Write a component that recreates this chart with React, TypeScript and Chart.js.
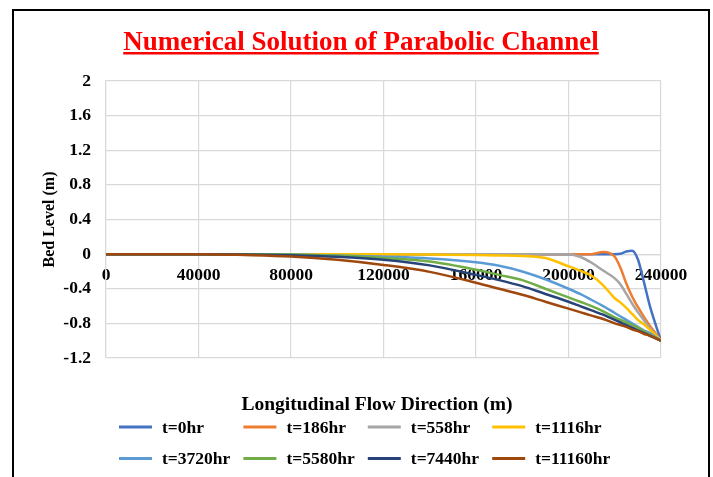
import { useEffect, useRef } from "react";
import { Chart, registerables } from "chart.js";

Chart.register(...registerables);

const SERIF = "'Liberation Serif', 'Times New Roman', serif";

const chartTitle = "Numerical Solution of Parabolic Channel";
const xAxisTitle = "Longitudinal Flow Direction (m)";
const yAxisTitle = "Bed Level (m)";

const xTickValues = [0, 40000, 80000, 120000, 160000, 200000, 240000];
const yTickValues = [-1.2, -0.8, -0.4, 0, 0.4, 0.8, 1.2, 1.6, 2];

const distance = [
  0, 20000, 40000, 60000, 80000, 100000, 120000, 140000, 160000, 170000, 180000,
  190000, 200000, 205000, 210000, 215000, 220000, 222500, 225000, 227500, 230000,
  232500, 235000, 237500, 240000,
];

const seriesLabels = [
  "t=0hr", "t=186hr", "t=558hr", "t=1116hr",
  "t=3720hr", "t=5580hr", "t=7440hr", "t=11160hr",
];

const seriesColors = [
  "#4472C4", "#ED7D31", "#A5A5A5", "#FFC000",
  "#5B9BD5", "#70AD47", "#264478", "#9E480E",
];

const bedT0 = [0, 0, 0, 0, 0, 0, 0, 0, 0, 0, 0, 0, 0, 0, 0, 0, 0, 0.005, 0.03, 0.04, -0.06, -0.31, -0.58, -0.8, -1.0];
const bedT186 = [0, 0, 0, 0, 0, 0, 0, 0, 0, 0, 0, 0, 0, 0, 0, 0.025, -0.03, -0.16, -0.34, -0.49, -0.61, -0.72, -0.82, -0.91, -1.0];
const bedT558 = [0, 0, 0, 0, 0, 0, 0, 0, 0, 0, 0, 0, 0, -0.03, -0.1, -0.19, -0.28, -0.35, -0.46, -0.57, -0.67, -0.76, -0.85, -0.93, -1.0];
const bedT1116 = [0, 0, 0, 0, 0, 0, 0, -0.005, -0.01, -0.015, -0.022, -0.045, -0.14, -0.19, -0.25, -0.36, -0.51, -0.56, -0.62, -0.69, -0.76, -0.81, -0.87, -0.93, -1.0];
const bedT3720 = [0, 0, 0, 0, -0.005, -0.015, -0.03, -0.05, -0.095, -0.135, -0.2, -0.29, -0.4, -0.46, -0.53, -0.6, -0.68, -0.72, -0.76, -0.8, -0.84, -0.88, -0.91, -0.955, -1.0];
const bedT5580 = [0, 0, 0, 0, -0.005, -0.02, -0.045, -0.085, -0.18, -0.24, -0.3, -0.4, -0.5, -0.55, -0.6, -0.66, -0.73, -0.76, -0.79, -0.82, -0.85, -0.89, -0.93, -0.965, -1.0];
const bedT7440 = [0, 0, 0, -0.003, -0.012, -0.03, -0.065, -0.13, -0.24, -0.3, -0.37, -0.46, -0.55, -0.6, -0.65, -0.7, -0.76, -0.79, -0.82, -0.85, -0.88, -0.91, -0.94, -0.97, -1.0];
const bedT11160 = [0, 0, 0, -0.01, -0.027, -0.065, -0.125, -0.205, -0.33, -0.4, -0.47, -0.55, -0.63, -0.67, -0.71, -0.75, -0.8, -0.82, -0.84, -0.87, -0.89, -0.92, -0.94, -0.97, -1.0];

const seriesValues = [bedT0, bedT186, bedT558, bedT1116, bedT3720, bedT5580, bedT7440, bedT11160];

const GRID = "#d9d9d9";

const decorPlugin = {
  id: "decor",
  afterDraw(chart: any) {
    const ctx = chart.ctx as CanvasRenderingContext2D;
    ctx.save();
    // main title, underlined
    ctx.font = `bold 27px ${SERIF}`;
    ctx.fillStyle = "#FF0000";
    ctx.textAlign = "center";
    ctx.textBaseline = "alphabetic";
    const tx = 361;
    const ty = 50;
    ctx.fillText(chartTitle, tx, ty);
    const tw = ctx.measureText(chartTitle).width;
    ctx.fillRect(tx - tw / 2, ty + 2, tw, 2.5);
    // x axis title
    ctx.fillStyle = "#000";
    ctx.font = `bold 19.5px ${SERIF}`;
    ctx.textBaseline = "middle";
    ctx.fillText(xAxisTitle, 377, 405);
    // legend, 4 columns
    ctx.textAlign = "left";
    ctx.font = `bold 17.5px ${SERIF}`;
    chart.data.datasets.forEach((ds: any, i: number) => {
      const col = i % 4;
      const row = Math.floor(i / 4);
      const x = 119 + col * 124.4;
      const y = 427 + row * 31.5;
      ctx.strokeStyle = ds.borderColor;
      ctx.lineWidth = 3;
      ctx.beginPath();
      ctx.moveTo(x, y);
      ctx.lineTo(x + 33, y);
      ctx.stroke();
      ctx.fillStyle = "#000";
      ctx.fillText(ds.label, x + 43, y + 1);
    });
    ctx.restore();
  },
};

export default function App() {
  const ref = useRef<HTMLCanvasElement>(null);

  useEffect(() => {
    const datasets = seriesLabels.map((label, i) => ({
      label,
      data: distance.map((x, j) => ({ x, y: seriesValues[i][j] })),
      borderColor: seriesColors[i],
      backgroundColor: seriesColors[i],
      borderWidth: 2.5,
      pointRadius: 0,
      cubicInterpolationMode: "monotone" as const,
      fill: false,
      order: seriesLabels.length - i,
    }));

    const chart = new Chart(ref.current!, {
      type: "line",
      data: { datasets },
      plugins: [decorPlugin],
      options: {
        animation: false,
        responsive: false,
        layout: { padding: { left: 30, right: 52, top: 81, bottom: 119 } },
        plugins: {
          legend: { display: false },
          title: { display: false },
          tooltip: { enabled: false },
        },
        scales: {
          x: {
            type: "linear",
            position: { y: 0 } as any,
            min: 0,
            max: 240000,
            afterBuildTicks: (scale: any) => {
              scale.ticks = xTickValues.map((v) => ({ value: v }));
            },
            ticks: {
              autoSkip: false,
              maxRotation: 0,
              padding: 11,
              color: "#000",
              font: { family: SERIF, size: 17.5, weight: "bold" },
              callback: (v: any) => String(v),
            },
            grid: { color: GRID, lineWidth: 1.2, drawTicks: false },
            border: { color: GRID, width: 1.2 },
          },
          y: {
            type: "linear",
            position: "left",
            min: -1.2,
            max: 2,
            afterBuildTicks: (scale: any) => {
              scale.ticks = yTickValues.map((v) => ({ value: v }));
            },
            afterFit: (scale: any) => {
              scale.width = 76;
            },
            ticks: {
              padding: 15,
              color: "#000",
              font: { family: SERIF, size: 17.5, weight: "bold" },
              callback: (v: any) => String(Number(Number(v).toFixed(1))),
            },
            title: {
              display: true,
              text: yAxisTitle,
              color: "#000",
              font: { family: SERIF, size: 16, weight: "bold" },
              padding: { top: 10, bottom: 0 },
            },
            grid: { color: GRID, lineWidth: 1.2, drawTicks: false },
            border: { color: GRID, width: 1.2 },
          },
        },
      },
    } as any);
    return () => chart.destroy();
  }, []);

  return (
    <div
      style={{
        position: "fixed",
        left: 0,
        top: 0,
        width: 713,
        height: 477,
        background: "#fff",
        overflow: "hidden",
      }}
    >
      <canvas
        ref={ref}
        width={713}
        height={477}
        style={{ position: "absolute", left: 0, top: 0, width: 713, height: 477 }}
      />
      <div
        style={{
          position: "absolute",
          left: 12,
          top: 9,
          width: 698,
          height: 490,
          border: "2px solid #000",
          boxSizing: "border-box",
          pointerEvents: "none",
        }}
      />
    </div>
  );
}
